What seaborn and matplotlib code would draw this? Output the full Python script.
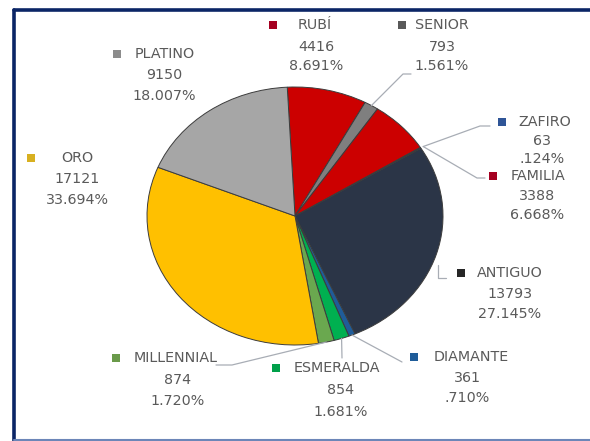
import numpy as np
import matplotlib
matplotlib.use("Agg")
import matplotlib.pyplot as plt
from matplotlib.lines import Line2D
from matplotlib.patches import Rectangle
import seaborn as sns

sns.set_theme(style="white")
plt.rcParams['font.family'] = ['DejaVu Sans']

# ---- data ----
categories = ["RUBÍ", "SENIOR", "FAMILIA", "ZAFIRO", "ANTIGUO",
              "DIAMANTE", "ESMERALDA", "MILLENNIAL", "ORO", "PLATINO"]
values = [4416, 793, 3388, 63, 13793, 361, 854, 874, 17121, 9150]
pct_labels = ["8.691%", "1.561%", "6.668%", ".124%", "27.145%",
              ".710%", "1.681%", "1.720%", "33.694%", "18.007%"]
colors = ["#CC0000", "#7F7F7F", "#CC0000", "#2F4F8F", "#2B3547",
          "#1F5C99", "#00B050", "#6AA84F", "#FFC000", "#A6A6A6"]
marker_colors = ["#A50021", "#595959", "#A50021", "#2F5597", "#262626",
                 "#1F5C99", "#00A04A", "#6A9A4A", "#D8B020", "#8C8C8C"]

W, H = 590, 441
fig = plt.figure(figsize=(W / 100, H / 100), dpi=100)
ax = fig.add_axes([0, 0, 1, 1])

# pie geometry in pixels (image is stretched horizontally)
cx, cy, rx, ry = 295, 216, 148, 129

wedges, _ = ax.pie(values, colors=colors, startangle=93, counterclock=False,
                   radius=1, center=(0, 0),
                   wedgeprops=dict(edgecolor="#3c3c3c", linewidth=0.7))
ax.set_aspect("auto")
ax.set_xlim(-cx / rx, (W - cx) / rx)
ax.set_ylim(-(H - cy) / ry, cy / ry)
ax.axis("off")


def px(x, y):
    return (x / W, 1 - y / H)


def edge_px(i, frac=1.0):
    w = wedges[i]
    a = np.deg2rad((w.theta1 + w.theta2) / 2)
    return cx + frac * rx * np.cos(a), cy - frac * ry * np.sin(a)


text_color = "#5a5a5a"
fs = 10.3

# label layout: (square x, name center x, line y0, value/pct center x, value y, pct y)
layout = {
    "RUBÍ": (273, 315, 25, 316, 47, 66),
    "SENIOR": (402, 442, 25, 442, 47, 66),
    "PLATINO": (117, 165, 54, 164, 75, 96),
    "ORO": (31, 77, 158, 77, 179, 200),
    "ZAFIRO": (502, 545, 122, 542, 141, 159),
    "FAMILIA": (493, 538, 176, 537, 196, 215),
    "ANTIGUO": (461, 510, 273, 510, 294, 314),
    "DIAMANTE": (414, 471, 357, 467, 378, 398),
    "ESMERALDA": (276, 337, 368, 341, 390, 412),
    "MILLENNIAL": (116, 176, 358, 178, 380, 401),
}

for i, name in enumerate(categories):
    sx, nx, y0, vx, vy, py = layout[name]
    fig.patches.append(Rectangle(px(sx - 4, y0 + 4), 8 / W, 8 / H,
                                 transform=fig.transFigure,
                                 facecolor=marker_colors[i], edgecolor="none"))
    fig.text(*px(nx, y0), name, ha="center", va="center", fontsize=fs, color=text_color)
    fig.text(*px(vx, vy), f"{values[i]}", ha="center", va="center", fontsize=fs, color=text_color)
    fig.text(*px(vx, py), pct_labels[i], ha="center", va="center", fontsize=fs, color=text_color)

# leader lines
lc = "#a8adb5"
iz = categories.index("ZAFIRO")
leaders = [
    (edge_px(categories.index("SENIOR")), [(403, 74), (411, 74)]),
    (edge_px(iz, 1.02), [(480, 126), (490, 126)]),
    (edge_px(iz, 1.02), [(477, 178), (485, 178)]),
    ((438, 265), [(438, 278), (446, 278)]),
    (edge_px(categories.index("DIAMANTE")), [(402, 362)]),
    (edge_px(categories.index("ESMERALDA")), [(342, 358)]),
    (edge_px(categories.index("MILLENNIAL")), [(232, 365), (216, 365)]),
]
for start, pts in leaders:
    xs = [start[0]] + [p[0] for p in pts]
    ys = [start[1]] + [p[1] for p in pts]
    fig.add_artist(Line2D([x / W for x in xs], [1 - y / H for y in ys],
                          transform=fig.transFigure, color=lc, linewidth=0.9))

# frame
navy = "#0B2566"
fig.add_artist(Line2D([13.5 / W, 13.5 / W], [1 - 9.5 / H, 0], transform=fig.transFigure,
                      color=navy, linewidth=2.6, solid_capstyle="round"))
fig.add_artist(Line2D([13.5 / W, 1], [1 - 9.5 / H, 1 - 9.5 / H], transform=fig.transFigure,
                      color=navy, linewidth=2.6, solid_capstyle="round"))
fig.add_artist(Line2D([13.5 / W, 1], [1 - 439.5 / H, 1 - 439.5 / H], transform=fig.transFigure,
                      color="#6C86B8", linewidth=1.5))

fig.savefig("out.png", dpi=100, facecolor="white")
